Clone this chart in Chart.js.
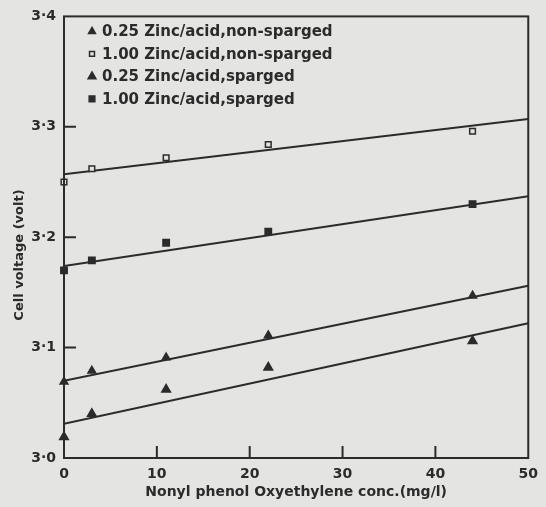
<!DOCTYPE html>
<html>
<head>
<meta charset="utf-8">
<script src="https://cdn.jsdelivr.net/npm/chart.js@4.4.1/dist/chart.umd.min.js"></script>
<style>
  html, body { margin: 0; padding: 0; background: #e4e4e2; }
  #wrap { width: 546px; height: 507px; }
</style>
</head>
<body>
<div id="wrap"><canvas id="c" width="546" height="507"></canvas></div>
<script>
// ── Data ──
const concX = [0, 3, 11, 22, 44];
const nonSparged025 = [3.069, 3.079, 3.091, 3.111, 3.147];
const nonSparged100 = [3.250, 3.262, 3.272, 3.284, 3.296];
const sparged025 = [3.019, 3.040, 3.062, 3.082, 3.106];
const sparged100 = [3.170, 3.179, 3.195, 3.205, 3.230];

// fitted straight lines, values at the two ends of the x range
const fitX = [0, 50];
const fitNonSparged025 = [3.070, 3.156];
const fitNonSparged100 = [3.257, 3.307];
const fitSparged025 = [3.031, 3.122];
const fitSparged100 = [3.174, 3.237];

const seriesLabels = [
    '0.25 Zinc/acid,non-sparged',
    '1.00 Zinc/acid,non-sparged',
    '0.25 Zinc/acid,sparged',
    '1.00 Zinc/acid,sparged'
];
const xTicks = [0, 10, 20, 30, 40, 50];
const yTicks = [3.0, 3.1, 3.2, 3.3, 3.4];
const yTitle = 'Cell voltage (volt)';
const xTitle = 'Nonyl phenol Oxyethylene conc.(mg/l)';

const ink = '#2b2b2b';
const paper = '#e4e4e2';
const tickFont = { family: 'DejaVu Sans', weight: 'bold', size: 14 };
const titleFont = { family: 'DejaVu Sans', weight: 'bold', size: 14 };

const pts = (ys) => concX.map((x, i) => ({ x, y: ys[i] }));
const fit = (ys) => fitX.map((x, i) => ({ x, y: ys[i] }));

const markers = [
    { style: 'triangle', radius: 4.5, fill: ink },
    { style: 'rect', radius: 4, fill: paper },
    { style: 'triangle', radius: 5, fill: ink },
    { style: 'rect', radius: 4.5, fill: ink }
];
const pointSets = [nonSparged025, nonSparged100, sparged025, sparged100];
const fitSets = [fitNonSparged025, fitNonSparged100, fitSparged025, fitSparged100];

const datasets = [];
pointSets.forEach((ys, i) => {
    datasets.push({
        label: seriesLabels[i], data: pts(ys), showLine: false, clip: false,
        pointStyle: markers[i].style, pointRadius: markers[i].radius,
        backgroundColor: markers[i].fill, borderColor: ink, borderWidth: 1.5
    });
});
fitSets.forEach((ys) => {
    datasets.push({
        label: '', data: fit(ys), showLine: true, pointRadius: 0,
        borderColor: ink, borderWidth: 2
    });
});

// frame, inward ticks, y title and in-plot legend
const framePlugin = {
    id: 'frame',
    beforeDraw(chart) {
        const { ctx } = chart;
        ctx.save();
        ctx.fillStyle = paper;
        ctx.fillRect(0, 0, chart.width, chart.height);
        ctx.restore();
    },
    afterDatasetsDraw(chart) {
        const { ctx, chartArea: a, scales } = chart;
        ctx.save();
        ctx.strokeStyle = ink;
        ctx.lineWidth = 2;
        ctx.strokeRect(a.left, a.top, a.right - a.left, a.bottom - a.top);
        ctx.beginPath();
        xTicks.slice(1, -1).forEach(v => {
            const px = scales.x.getPixelForValue(v);
            ctx.moveTo(px, a.bottom);
            ctx.lineTo(px, a.bottom - 12);
        });
        yTicks.slice(1, -1).forEach(v => {
            const py = scales.y.getPixelForValue(v);
            ctx.moveTo(a.left, py);
            ctx.lineTo(a.left + 12, py);
        });
        ctx.stroke();

        // y title, a bit below the middle like the scan
        ctx.save();
        ctx.translate(20, 255);
        ctx.rotate(-Math.PI / 2);
        ctx.font = 'bold 13px "DejaVu Sans"';
        ctx.textAlign = 'center';
        ctx.textBaseline = 'middle';
        ctx.fillStyle = ink;
        ctx.fillText(yTitle, 0, 0);
        ctx.restore();

        // legend
        ctx.font = 'bold 15px "DejaVu Sans"';
        ctx.textBaseline = 'middle';
        seriesLabels.forEach((lab, i) => {
            const y = a.top + 15 + i * 22.5;
            const x = a.left + 28;
            ctx.fillStyle = markers[i].fill;
            ctx.strokeStyle = ink;
            ctx.lineWidth = 1.5;
            Chart.helpers.drawPoint(ctx, {
                pointStyle: markers[i].style, radius: markers[i].radius - 0.5, borderWidth: 1.5
            }, x, y);
            ctx.fillStyle = ink;
            ctx.fillText(lab, x + 10, y + 1);
        });
        ctx.restore();
    }
};

new Chart(document.getElementById('c'), {
    type: 'scatter',
    data: { datasets },
    options: {
        responsive: false,
        animation: false,
        layout: { padding: { top: 15, right: 15, left: 0, bottom: 6 } },
        plugins: { legend: { display: false }, tooltip: { enabled: false } },
        scales: {
            x: {
                type: 'linear', min: 0, max: 50,
                afterBuildTicks: (s) => { s.ticks = xTicks.map(v => ({ value: v })); },
                afterFit: (s) => { s.height = 43; },
                grid: { display: false, drawTicks: false },
                border: { display: false },
                ticks: { color: ink, font: tickFont, padding: 8 },
                title: { display: true, text: xTitle, color: ink, font: titleFont, padding: 0 }
            },
            y: {
                type: 'linear', min: 3.0, max: 3.4,
                afterBuildTicks: (s) => { s.ticks = yTicks.map(v => ({ value: v })); },
                afterFit: (s) => { s.width = 64; },
                grid: { display: false, drawTicks: false },
                border: { display: false },
                ticks: { color: ink, font: tickFont, padding: 8, callback: (v) => v.toFixed(1).replace('.', '·') }
            }
        }
    },
    plugins: [framePlugin]
});
</script>
</body>
</html>
